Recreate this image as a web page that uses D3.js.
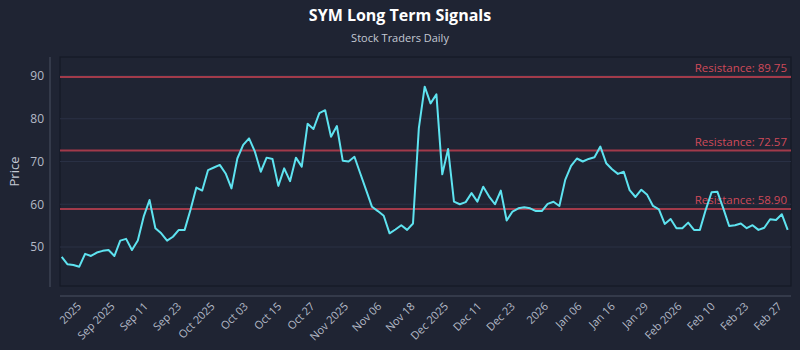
<!DOCTYPE html>
<html>
<head>
<meta charset="utf-8">
<script src="https://cdn.jsdelivr.net/npm/d3@7"></script>
<style>
  html, body { margin: 0; padding: 0; background: #1f2433; }
  svg { display: block; font-family: "Open Sans", "Noto Sans", sans-serif; }
</style>
</head>
<body>
<svg id="chart" width="800" height="350"></svg>
<script>
// Daily closing prices, one per trading session
const prices = [
  47.7, 45.95, 45.8, 45.4, 48.4, 47.9, 48.7, 49.1, 49.3, 47.9,
  51.5, 51.9, 49.3, 51.5, 57.1, 61.0, 54.4, 53.2, 51.5, 52.4,
  54.0, 54.0, 58.7, 63.9, 63.2, 68.0, 68.6, 69.2, 67.2, 63.7,
  70.7, 73.9, 75.4, 72.3, 67.6, 70.9, 70.6, 64.3, 68.4, 65.4,
  70.9, 68.8, 78.8, 77.6, 81.3, 82.0, 75.8, 78.3, 70.2, 70.0,
  71.1, 67.2, 63.3, 59.4, 58.4, 57.3, 53.2, 54.1, 55.1, 54.0,
  55.5, 77.8, 87.5, 83.6, 85.7, 67.0, 72.9, 60.6, 60.0, 60.5,
  62.6, 60.6, 64.1, 61.8, 60.0, 63.2, 56.2, 58.3, 59.05, 59.3,
  59.05, 58.4, 58.4, 60.1, 60.6, 59.6, 65.7, 68.95, 70.7, 70.0,
  70.6, 71.0, 73.5, 69.6, 68.2, 67.1, 67.6, 63.3, 61.7, 63.4,
  62.2, 59.6, 58.8, 55.4, 56.55, 54.4, 54.4, 55.7, 54.0, 54.0,
  58.7, 62.8, 62.9, 59.05, 54.9, 55.1, 55.5, 54.4, 55.1, 54.0,
  54.5, 56.5, 56.3, 57.65, 54.0
];

// Resistance levels
const resistance = [89.75, 72.57, 58.90];

// Date labels along the time axis
const xTickLabels = [
  "2025", "Sep 2025", "Sep 11", "Sep 23", "Oct 2025", "Oct 03", "Oct 15",
  "Oct 27", "Nov 2025", "Nov 06", "Nov 18", "Dec 2025", "Dec 11", "Dec 23",
  "2026", "Jan 06", "Jan 16", "Jan 29", "Feb 2026", "Feb 10", "Feb 23", "Feb 27"
];

const yTicks = [50, 60, 70, 80, 90];

const svg = d3.select("#chart");
const W = 800, H = 350;
const plot = { left: 60, right: 791, top: 57, bottom: 286 };

svg.append("rect").attr("width", W).attr("height", H).attr("fill", "#1f2433");

// Scales
const x = d3.scalePoint()
  .domain(d3.range(prices.length))
  .range([61.7, 787.7]);

const y = d3.scaleLinear()
  .domain([40.88, 94.44])
  .range([plot.bottom, plot.top]);

const xLabel = d3.scalePoint()
  .domain(xTickLabels)
  .range([82, 782.5]);

// Plot frame
svg.append("rect")
  .attr("x", plot.left).attr("y", plot.top)
  .attr("width", plot.right - plot.left)
  .attr("height", plot.bottom - plot.top)
  .attr("fill", "#1f2433")
  .attr("stroke", "#151a26")
  .attr("stroke-width", 1.2);

// Horizontal grid
svg.append("g")
  .selectAll("line")
  .data(yTicks)
  .join("line")
  .attr("x1", plot.left).attr("x2", plot.right)
  .attr("y1", d => y(d)).attr("y2", d => y(d))
  .attr("stroke", "#2a3145")
  .attr("stroke-width", 1);

// Y axis (offset to the left of the frame)
const yAxis = svg.append("g")
  .attr("transform", "translate(50,0)")
  .call(d3.axisLeft(y).tickValues(yTicks).tickSize(0).tickPadding(6));
yAxis.select(".domain")
  .attr("d", `M0,${plot.top}V${plot.bottom + 1}`)
  .attr("stroke", "#4a5162");
yAxis.selectAll("text")
  .attr("fill", "#b4bac7")
  .attr("font-size", 12)
  .attr("font-family", "Open Sans, sans-serif");

// X axis line (offset below the frame)
svg.append("line")
  .attr("x1", plot.left).attr("x2", plot.right)
  .attr("y1", 296).attr("y2", 296)
  .attr("stroke", "#4a5162");

// X tick labels
svg.append("g")
  .selectAll("text")
  .data(xTickLabels)
  .join("text")
  .attr("transform", d => `translate(${xLabel(d)},307) rotate(-45)`)
  .attr("text-anchor", "end")
  .attr("fill", "#b4bac7")
  .attr("font-size", 11)
  .text(d => d);

// Y axis title
svg.append("text")
  .attr("transform", `translate(19,${(plot.top + plot.bottom) / 2}) rotate(-90)`)
  .attr("text-anchor", "middle")
  .attr("fill", "#c4c9d4")
  .attr("font-size", 13)
  .text("Price");

// Resistance lines and labels
const res = svg.append("g");
res.selectAll("line")
  .data(resistance)
  .join("line")
  .attr("x1", plot.left).attr("x2", plot.right)
  .attr("y1", d => y(d)).attr("y2", d => y(d))
  .attr("stroke", "#b03d4d")
  .attr("stroke-opacity", 0.9)
  .attr("stroke-width", 2);
res.selectAll("text")
  .data(resistance)
  .join("text")
  .attr("x", 787)
  .attr("y", d => y(d) - 5)
  .attr("text-anchor", "end")
  .attr("fill", "#cf4a5a")
  .attr("font-size", 11.5)
  .text(d => `Resistance: ${d.toFixed(2)}`);

// Price line
svg.append("path")
  .datum(prices)
  .attr("fill", "none")
  .attr("stroke", "#5ee3f0")
  .attr("stroke-width", 2)
  .attr("stroke-linejoin", "round")
  .attr("d", d3.line().x((d, i) => x(i)).y(d => y(d)));

// Titles
svg.append("text")
  .attr("x", 400).attr("y", 21)
  .attr("text-anchor", "middle")
  .attr("fill", "#ffffff")
  .attr("font-size", 16)
  .attr("font-weight", "bold")
  .text("SYM Long Term Signals");

svg.append("text")
  .attr("x", 400).attr("y", 42)
  .attr("text-anchor", "middle")
  .attr("fill", "#c4c9d4")
  .attr("font-size", 11)
  .text("Stock Traders Daily");
</script>
</body>
</html>
